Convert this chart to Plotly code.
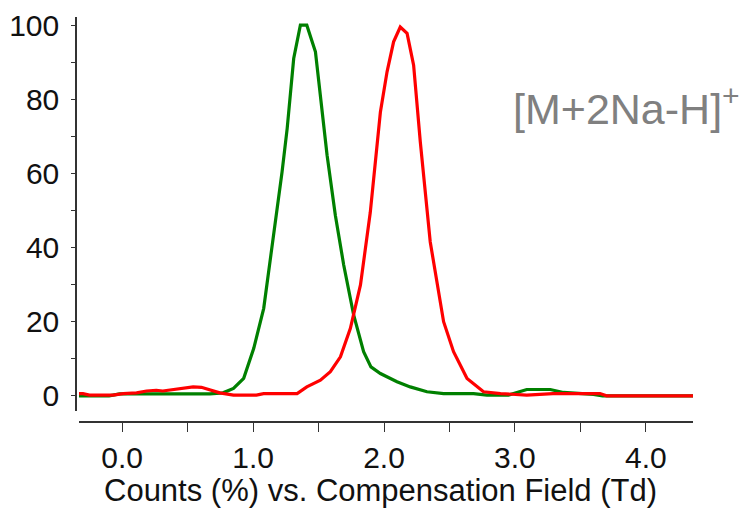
import plotly.graph_objects as go

# Green trace (compensation field, counts %)
green_x = [-0.33, -0.1, -0.02, 0.3, 0.67, 0.77, 0.85, 0.928, 1.005, 1.081, 1.157, 1.221, 1.26, 1.31,
           1.361, 1.41, 1.476, 1.514, 1.565, 1.628, 1.692, 1.768, 1.844, 1.9, 1.972, 2.099, 2.2,
           2.328, 2.455, 2.684, 2.786, 2.95, 3.09, 3.27, 3.37, 3.6, 3.67, 4.36]
green_y = [0.0, 0.0, 0.5, 0.5, 0.5, 0.8, 2.0, 4.7, 12.8, 23.6, 43.3, 60.4, 72.1, 91.0,
           100, 100, 92.8, 80.2, 64.9, 48.7, 35.3, 21.8, 11.9, 7.8, 6.0, 3.8, 2.4,
           1.1, 0.6, 0.6, 0.2, 0.2, 1.7, 1.7, 0.9, 0.4, 0.0, 0.0]

# Red trace
red_x = [-0.33, -0.3, -0.25, -0.07, 0.008, 0.11, 0.186, 0.26, 0.31, 0.39, 0.466, 0.542, 0.605,
         0.67, 0.745, 0.85, 1.025, 1.08, 1.336, 1.41, 1.514, 1.59, 1.667, 1.743, 1.82, 1.895,
         1.972, 2.023, 2.073, 2.124, 2.176, 2.226, 2.277, 2.353, 2.455, 2.531, 2.634, 2.76,
         2.89, 3.09, 3.29, 3.65, 3.70, 4.36]
red_y = [0.6, 0.6, 0.2, 0.2, 0.6, 0.8, 1.3, 1.5, 1.3, 1.7, 2.0, 2.4, 2.3,
         1.5, 0.8, 0.2, 0.2, 0.6, 0.6, 2.4, 4.2, 6.5, 10.5, 18.2, 29.9, 49.5,
         76.5, 87.4, 95.5, 99.5, 97.8, 89.2, 68.5, 41.5, 20.0, 11.9, 4.7, 1.1,
         0.6, 0.2, 0.6, 0.6, 0.0, 0.0]

x_ticks = [0, 1, 2, 3, 4]
x_ticktext = ["0.0", "1.0", "2.0", "3.0", "4.0"]
y_ticks = [0, 20, 40, 60, 80, 100]
x_title = "Counts (%) vs. Compensation Field (Td)"
ion_label = "[M+2Na-H]<sup>+</sup>"

W, H = 742, 511
ml, mr, mt, mb = 76, 49, 17, 89
pw = W - ml - mr
ph = H - mt - mb

fig = go.Figure()
fig.add_trace(go.Scatter(x=green_x, y=green_y, mode="lines",
                         line=dict(color="#008000", width=3.2), showlegend=False))
fig.add_trace(go.Scatter(x=red_x, y=red_y, mode="lines",
                         line=dict(color="#ff0000", width=3.2), showlegend=False))

font_fam = "Liberation Sans, Arial, sans-serif"
fig.update_layout(
    width=W, height=H,
    margin=dict(l=ml, r=mr, t=mt, b=mb, autoexpand=False),
    plot_bgcolor="white", paper_bgcolor="white",
    font=dict(family=font_fam, size=30, color="#111111"),
    xaxis=dict(
        domain=[3 / pw, 1], anchor="free", position=0,
        range=[-0.33, 4.36], automargin=False,
        showline=True, linecolor="#333333", linewidth=1.5,
        ticks="outside", ticklen=9, tickwidth=1.2, tickcolor="#333333",
        tickvals=x_ticks, ticktext=x_ticktext,
        minor=dict(dtick=0.5, tick0=0, ticks="outside", ticklen=9, tickwidth=1.2, tickcolor="#333333"),
        showgrid=False, zeroline=False,
        tickfont=dict(size=30),
    ),
    yaxis=dict(
        domain=[11 / ph, 1], anchor="free", position=0,
        range=[-4.1, 102.2], automargin=False,
        showline=True, linecolor="#333333", linewidth=1.5,
        ticks="outside", ticklen=4, tickwidth=1.2, tickcolor="#333333",
        tickvals=y_ticks,
        minor=dict(dtick=10, tick0=0, ticks="outside", ticklen=4, tickwidth=1.2, tickcolor="#333333"),
        showgrid=False, zeroline=False,
        ticklabelstandoff=6,
        tickfont=dict(size=30),
    ),
    annotations=[
        dict(text=x_title, xref="paper", yref="paper",
             x=(380 - ml) / pw, y=(mt + ph - 491) / ph, xanchor="center", yanchor="middle",
             showarrow=False, font=dict(size=31, color="#111111", family=font_fam)),
        dict(text=ion_label, xref="paper", yref="paper",
             x=(742 - ml) / pw, y=(mt + ph - 106) / ph, xanchor="right", yanchor="middle",
             showarrow=False, font=dict(size=43, color="#808080", family=font_fam)),
    ],
)

fig.write_html("out.html")
